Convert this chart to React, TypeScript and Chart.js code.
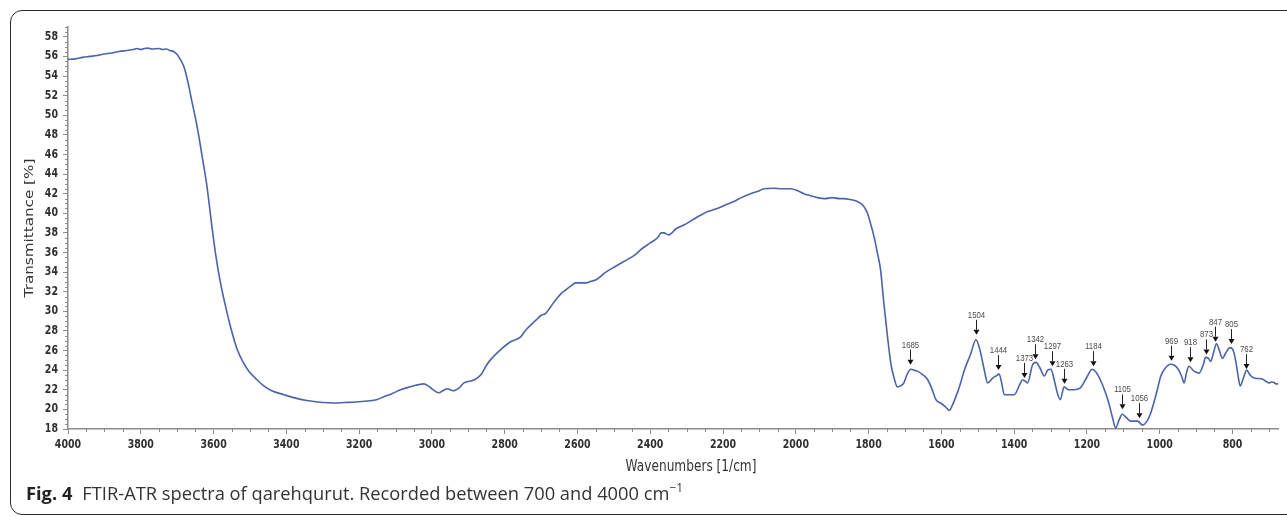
import React, { useEffect, useRef } from "react";
import { Chart, registerables } from "chart.js";

Chart.register(...registerables);

// Spectrum: wavenumber (1/cm) and transmittance (%)
const wavenumbers = [
  4000, 3980, 3960, 3940, 3920, 3900, 3880, 3860, 3840, 3820, 3810, 3800, 3790, 3780, 3770, 3750, 3740, 3730, 3720, 3710,
  3700, 3690, 3680, 3670, 3660, 3645, 3630, 3618, 3605, 3595, 3581, 3567, 3554, 3535, 3520, 3503, 3480, 3462, 3440, 3407,
  3380, 3344, 3300, 3270, 3240, 3210, 3178, 3150, 3132, 3110, 3086, 3060, 3040, 3022, 3010, 3000, 2981, 2970, 2958, 2941,
  2925, 2912, 2885, 2866, 2850, 2838, 2811, 2784, 2756, 2742, 2714, 2700, 2687, 2673, 2659, 2645, 2632, 2618, 2605, 2577,
  2560, 2550, 2522, 2495, 2467, 2440, 2426, 2399, 2380, 2370, 2363, 2349, 2330, 2308, 2285, 2262, 2240, 2216, 2190, 2170,
  2150, 2124, 2100, 2088, 2060, 2040, 2014, 1995, 1978, 1960, 1941, 1920, 1900, 1880, 1868, 1850, 1831, 1815, 1803, 1795,
  1785, 1776, 1767, 1758, 1748, 1739, 1730, 1721, 1712, 1703, 1695, 1684, 1675, 1666, 1650, 1639, 1627, 1615, 1600, 1590,
  1578, 1570, 1560, 1548, 1537, 1520, 1505, 1495, 1482, 1473, 1459, 1450, 1441, 1435, 1427, 1410, 1400, 1385, 1377, 1370,
  1363, 1350, 1340, 1330, 1317, 1308, 1299, 1290, 1280, 1273, 1263, 1250, 1236, 1218, 1200, 1186, 1175, 1163, 1150, 1140,
  1130, 1121, 1112, 1103, 1090, 1080, 1061, 1047, 1035, 1025, 1010, 997, 985, 970, 960, 951, 940, 933, 926, 920,
  906, 892, 880, 874, 866, 860, 852, 844, 836, 828, 818, 807, 798, 791, 785, 779, 770, 761, 752, 741,
  730, 718, 710, 700, 692, 686, 680, 675,
];
const transmittance = [
  55.7, 55.75, 55.9, 56.0, 56.1, 56.25, 56.35, 56.5, 56.6, 56.7, 56.8, 56.7, 56.8, 56.85, 56.75, 56.8, 56.7, 56.75, 56.6, 56.5,
  56.2, 55.6, 54.8, 53.3, 51.5, 48.8, 45.5, 42.7, 38.8, 36.0, 32.9, 30.5, 28.5, 26.1, 24.9, 23.9, 23.0, 22.4, 21.9, 21.5,
  21.2, 20.9, 20.7, 20.65, 20.7, 20.75, 20.85, 21.0, 21.3, 21.6, 22.0, 22.3, 22.5, 22.6, 22.4, 22.1, 21.7, 21.9, 22.1, 21.9,
  22.2, 22.7, 23.0, 23.5, 24.5, 25.1, 26.1, 26.9, 27.4, 28.1, 29.1, 29.6, 29.8, 30.5, 31.2, 31.8, 32.2, 32.6, 32.9, 32.9,
  33.1, 33.2, 34.0, 34.6, 35.2, 35.8, 36.3, 37.0, 37.5, 38.0, 38.0, 37.8, 38.4, 38.8, 39.3, 39.8, 40.2, 40.5, 40.9, 41.2,
  41.6, 42.0, 42.3, 42.5, 42.55, 42.5, 42.5, 42.3, 42.0, 41.8, 41.6, 41.5, 41.6, 41.5, 41.5, 41.4, 41.2, 40.8, 40.0, 39.0,
  37.6, 36.0, 34.2, 30.8, 27.4, 24.7, 23.2, 22.3, 22.4, 22.7, 23.5, 24.1, 24.0, 23.9, 23.5, 23.1, 22.2, 21.0, 20.6, 20.3,
  19.9, 20.4, 21.3, 22.6, 24.0, 25.6, 27.1, 26.2, 24.0, 22.7, 23.2, 23.4, 23.6, 22.8, 21.5, 21.5, 21.5, 22.5, 23.0, 22.9,
  22.7, 24.5, 24.8, 24.3, 23.4, 24.0, 24.1, 23.0, 21.5, 21.0, 22.3, 22.0, 22.0, 22.2, 23.3, 24.1, 23.8, 23.0, 21.8, 20.65,
  19.2, 18.1, 18.9, 19.5, 19.1, 18.8, 18.8, 18.4, 18.8, 19.6, 21.5, 23.4, 24.2, 24.6, 24.5, 24.2, 23.4, 22.7, 23.8, 24.4,
  23.9, 23.7, 24.6, 25.3, 25.2, 24.9, 25.8, 26.7, 26.0, 25.2, 25.8, 26.3, 26.0, 24.9, 23.5, 22.4, 23.2, 24.0, 23.5, 23.2,
  23.15, 23.1, 22.9, 22.7, 22.8, 22.75, 22.6, 22.6,
];

// Annotated peaks
const peakWavenumbers = [1685, 1504, 1444, 1373, 1342, 1297, 1263, 1184, 1105, 1056, 969, 918, 873, 847, 805, 762];
const peakTransmittance = [24.15, 27.2, 23.6, 22.8, 24.7, 24.0, 22.2, 24.0, 19.6, 18.7, 24.55, 24.4, 25.2, 26.5, 26.25, 23.7];

// Axis tick labels
const xTickLabels = [4000, 3800, 3600, 3400, 3200, 3000, 2800, 2600, 2400, 2200, 2000, 1800, 1600, 1400, 1200, 1000, 800];
const yTickLabels = [18, 20, 22, 24, 26, 28, 30, 32, 34, 36, 38, 40, 42, 44, 46, 48, 50, 52, 54, 56, 58];

const X_MIN = 675;
const X_MAX = 4000;
const Y_MIN = 18;
const Y_MAX = 59;

const AXIS_COLOR = "#8c8c8c";
const LINE_COLOR = "rgb(74,99,170)";
const SQUASH = 0.8; // the original figure's text is horizontally compressed
const TICK_FONT = 'bold 11.8px "DejaVu Sans", Verdana, sans-serif';
const TITLE_FONT = '15.2px "DejaVu Sans", Verdana, sans-serif';
const PEAK_FONT = '9.8px "Liberation Sans", Arial, sans-serif';

function squashedText(ctx: CanvasRenderingContext2D, text: string, x: number, y: number, align: CanvasTextAlign) {
  ctx.save();
  ctx.translate(x, y);
  ctx.scale(SQUASH, 1);
  ctx.textAlign = align;
  ctx.fillText(text, 0, 0);
  ctx.restore();
}

const decorPlugin = {
  id: "decor",
  afterDraw(chart: any) {
    const ctx: CanvasRenderingContext2D = chart.ctx;
    const x = chart.scales.x;
    const y = chart.scales.y;
    ctx.save();
    // minor ticks
    ctx.strokeStyle = AXIS_COLOR;
    ctx.lineWidth = 1;
    ctx.beginPath();
    for (let v = 700; v <= X_MAX; v += 50) {
      if (v % 200 === 0) continue;
      const px = Math.round(x.getPixelForValue(v)) + 0.5;
      ctx.moveTo(px, y.bottom);
      ctx.lineTo(px, y.bottom + 3);
    }
    for (let v = Y_MIN + 0.5; v <= Y_MAX; v += 0.5) {
      if (v % 2 === 0) continue;
      const py = Math.round(y.getPixelForValue(v)) + 0.5;
      ctx.moveTo(x.left - 3, py);
      ctx.lineTo(x.left, py);
    }
    ctx.stroke();

    // tick labels
    ctx.fillStyle = "#2e2e2e";
    ctx.font = TICK_FONT;
    ctx.textBaseline = "middle";
    xTickLabels.forEach((v) => {
      squashedText(ctx, String(v), x.getPixelForValue(v), y.bottom + 16, "center");
    });
    yTickLabels.forEach((v) => {
      squashedText(ctx, String(v), x.left - 10, y.getPixelForValue(v), "right");
    });

    // peak annotations
    ctx.font = PEAK_FONT;
    ctx.textBaseline = "alphabetic";
    peakWavenumbers.forEach((w, i) => {
      const px = Math.round(x.getPixelForValue(w)) + 0.5;
      const tip = y.getPixelForValue(peakTransmittance[i]) - 4;
      ctx.strokeStyle = "#222";
      ctx.lineWidth = 1;
      ctx.beginPath();
      ctx.moveTo(px, tip - 15);
      ctx.lineTo(px, tip - 5);
      ctx.stroke();
      ctx.fillStyle = "#111";
      ctx.beginPath();
      ctx.moveTo(px - 3, tip - 5);
      ctx.lineTo(px + 3, tip - 5);
      ctx.lineTo(px, tip);
      ctx.closePath();
      ctx.fill();
      ctx.fillStyle = "#4a4a4a";
      squashedText(ctx, String(w), px, tip - 17, "center");
    });

    // axis titles
    ctx.fillStyle = "#333";
    ctx.font = TITLE_FONT;
    ctx.textBaseline = "middle";
    squashedText(ctx, "Wavenumbers [1/cm]", (x.left + x.right) / 2 + 18, y.bottom + 38, "center");
    ctx.save();
    ctx.translate(30, (y.top + y.bottom) / 2);
    ctx.rotate(-Math.PI / 2);
    ctx.scale(1, SQUASH);
    ctx.textAlign = "center";
    ctx.fillText("Transmittance [%]", 0, 0);
    ctx.restore();
    ctx.restore();
  },
};

export default function App() {
  const canvasRef = useRef<HTMLCanvasElement | null>(null);

  useEffect(() => {
    const canvas = canvasRef.current;
    if (!canvas) return;
    const points = wavenumbers.map((w, i) => ({ x: w, y: transmittance[i] }));
    const chart = new Chart(canvas, {
      type: "line",
      data: {
        datasets: [
          {
            data: points,
            borderColor: LINE_COLOR,
            borderWidth: 1.6,
            pointRadius: 0,
            fill: false,
            cubicInterpolationMode: "monotone",
          },
        ],
      },
      options: {
        animation: false,
        responsive: false,
        devicePixelRatio: 1,
        layout: { padding: { left: 0, top: 27, right: 9, bottom: 0 } },
        plugins: { legend: { display: false }, tooltip: { enabled: false }, title: { display: false } },
        scales: {
          x: {
            type: "linear",
            reverse: true,
            min: X_MIN,
            max: X_MAX,
            afterBuildTicks: (s: any) => {
              s.ticks = xTickLabels.map((v) => ({ value: v }));
            },
            afterFit: (s: any) => {
              s.height = 88;
            },
            grid: { display: true, drawOnChartArea: false, tickLength: 5, tickColor: AXIS_COLOR, tickWidth: 1 },
            border: { display: true, color: AXIS_COLOR, width: 1.5 },
            ticks: { display: false, autoSkip: false, maxRotation: 0 },
          },
          y: {
            type: "linear",
            min: Y_MIN,
            max: Y_MAX,
            afterBuildTicks: (s: any) => {
              s.ticks = yTickLabels.map((v) => ({ value: v }));
            },
            afterFit: (s: any) => {
              s.width = 68;
            },
            grid: { display: true, drawOnChartArea: false, tickLength: 5, tickColor: AXIS_COLOR, tickWidth: 1 },
            border: { display: true, color: AXIS_COLOR, width: 1.5 },
            ticks: { display: false, autoSkip: false },
          },
        },
      },
      plugins: [decorPlugin],
    });
    return () => chart.destroy();
  }, []);

  return (
    <div style={{ position: "fixed", left: 0, top: 0, width: 1287, height: 517, overflow: "hidden", background: "#fff" }}>
      <canvas ref={canvasRef} width={1287} height={517} style={{ position: "absolute", left: 0, top: 0, width: 1287, height: 517 }} />
      <div
        style={{
          position: "absolute",
          left: 10,
          top: 10,
          width: 1300,
          height: 503,
          border: "1.5px solid #2a2a2a",
          borderRadius: 12,
          pointerEvents: "none",
        }}
      />
      <div
        style={{
          position: "absolute",
          left: 26,
          top: 480,
          fontFamily: '"Open Sans", "Noto Sans", sans-serif',
          fontSize: 18.3,
          color: "#333",
          whiteSpace: "nowrap",
          lineHeight: "26px",
        }}
      >
        <span style={{ fontWeight: 700, color: "#222", marginRight: 10 }}>Fig. 4</span>
        FTIR-ATR spectra of qarehqurut. Recorded between 700 and 4000 cm
        <sup style={{ fontSize: "0.65em", verticalAlign: "0.7em", lineHeight: 0 }}>−1</sup>
      </div>
    </div>
  );
}
